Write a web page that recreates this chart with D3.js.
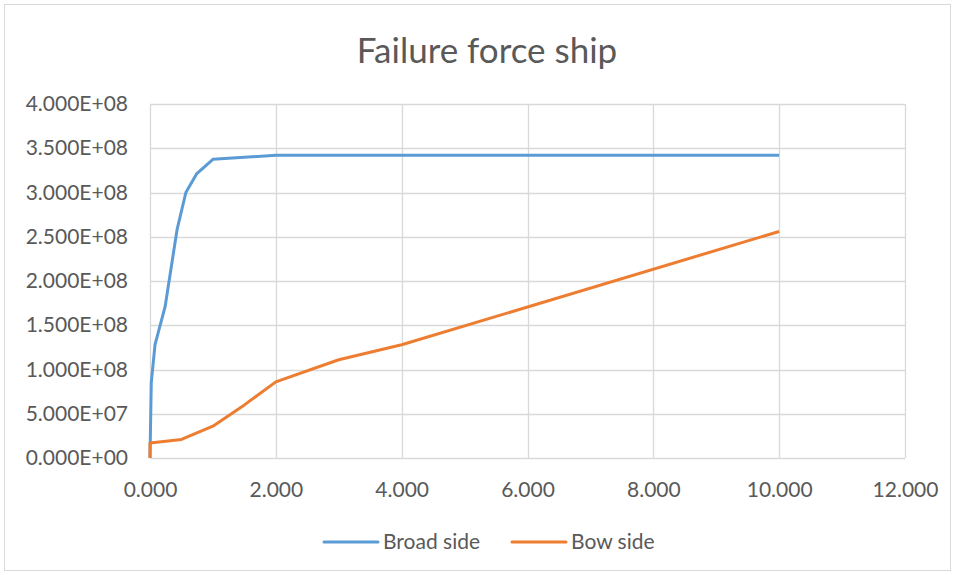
<!DOCTYPE html>
<html lang="en">
<head>
<meta charset="UTF-8">
<title>Failure force ship</title>
<script src="https://d3js.org/d3.v7.min.js"></script>
<style>
  body, html { margin: 0; background: #fff; }
  svg { display: block; font-family: 'Lato', 'Open Sans', sans-serif; }
  .tick text { fill: #595959; font-size: 21px; }
  .title { fill: #595959; font-size: 35px; text-anchor: middle; }
  .legend text { fill: #595959; font-size: 21px; }
</style>
</head>
<body>
<svg width="956" height="575"></svg>
<script>
// data
const broadX = [0, 0.02, 0.08, 0.24, 0.43, 0.57, 0.74, 1, 2, 10];
const broadY = [0, 8.5e7, 1.28e8, 1.71e8, 2.58e8, 3.0e8, 3.21e8, 3.375e8, 3.42e8, 3.42e8];
const bowX = [0, 0, 0.5, 1, 1.5, 2, 3, 4, 10];
const bowY = [0, 1.7e7, 2.1e7, 3.6e7, 6.0e7, 8.6e7, 1.11e8, 1.28e8, 2.56e8];
const xTicks = [0, 2, 4, 6, 8, 10, 12];
const yTicks = [0, 5e7, 1e8, 1.5e8, 2e8, 2.5e8, 3e8, 3.5e8, 4e8];
const seriesNames = ["Broad side", "Bow side"];
const colors = ["#5b9bd5", "#ed7d31"];

const svg = d3.select("svg");
const margin = {left: 150, right: 51, top: 104, bottom: 117};
const width = 956, height = 575;

svg.append("rect")
    .attr("x", 4.5).attr("y", 4.5)
    .attr("width", 946).attr("height", 566)
    .attr("fill", "#fff").attr("stroke", "#d9d9d9");

const x = d3.scaleLinear().domain([0, 12]).range([margin.left, width - margin.right]);
const y = d3.scaleLinear().domain([0, 4e8]).range([height - margin.bottom, margin.top]);

// gridlines
svg.append("g").selectAll("line.h").data(yTicks).join("line")
    .attr("x1", x(0)).attr("x2", x(12))
    .attr("y1", d => Math.round(y(d)) + 0.5).attr("y2", d => Math.round(y(d)) + 0.5)
    .attr("stroke", "#d9d9d9").attr("stroke-width", 1.3);
svg.append("g").selectAll("line.v").data(xTicks).join("line")
    .attr("y1", y(0)).attr("y2", y(4e8))
    .attr("x1", d => Math.round(x(d)) + 0.5).attr("x2", d => Math.round(x(d)) + 0.5)
    .attr("stroke", "#d9d9d9").attr("stroke-width", 1.3);

const fmtY = d => {
  const e = d === 0 ? 0 : Math.floor(Math.log10(d));
  const m = d === 0 ? 0 : d / Math.pow(10, e);
  return m.toFixed(3) + "E" + (e < 10 ? "+0" : "+") + e;
};

svg.append("g")
    .attr("transform", `translate(${x(0)},0)`)
    .call(d3.axisLeft(y).tickValues(yTicks).tickFormat(fmtY).tickSize(0).tickPadding(22))
    .call(g => g.select(".domain").remove());

svg.append("g")
    .attr("transform", `translate(0,${y(0)})`)
    .call(d3.axisBottom(x).tickValues(xTicks).tickFormat(d3.format(".3f")).tickSize(0).tickPadding(24))
    .call(g => g.select(".domain").remove());

svg.selectAll(".tick text").style("font-family", "'Lato', sans-serif");

const line = d3.line().x(d => x(d[0])).y(d => y(d[1]));
const series = [d3.zip(broadX, broadY), d3.zip(bowX, bowY)];

svg.append("g").selectAll("path").data(series).join("path")
    .attr("d", line)
    .attr("fill", "none")
    .attr("stroke", (d, i) => colors[i])
    .attr("stroke-width", 3)
    .attr("stroke-linejoin", "round");

svg.append("text")
    .attr("class", "title")
    .attr("x", 487).attr("y", 63)
    .text("Failure force ship");

const legend = svg.append("g").attr("class", "legend");
const legX = [324, 512];
seriesNames.forEach((name, i) => {
  legend.append("line")
      .attr("x1", legX[i]).attr("x2", legX[i] + 54)
      .attr("y1", 542).attr("y2", 542)
      .attr("stroke", colors[i]).attr("stroke-width", 3).attr("stroke-linecap", "round");
  legend.append("text")
      .attr("x", legX[i] + 59).attr("y", 549)
      .text(name);
});
</script>
</body>
</html>
